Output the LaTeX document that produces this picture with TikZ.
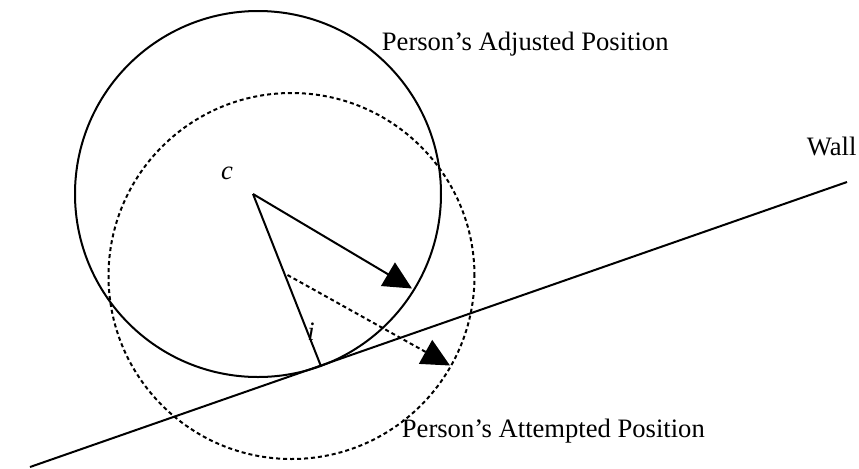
\documentclass[tikz,border=0pt]{standalone}
\usepackage{fontspec}
\setmainfont{Liberation Serif}
\usetikzlibrary{arrows.meta}
\tikzstyle{solidline}=[line width=1pt]
\tikzstyle{dotline}=[line width=1pt, dash pattern=on 2pt off 1.5pt]
\tikzstyle{bigarrow}=[-{Triangle[length=14pt,width=13.5pt]}]
\tikzstyle{labelsty}=[inner sep=0pt, anchor=base west, font=\fontsize{13.3}{16}\selectfont]
\begin{document}
\begin{tikzpicture}[x=0.5pt,y=-0.5pt]
			\useasboundingbox (0,0) rectangle (859,468);
			\coordinate (adj) at (258,194);
			\coordinate (att) at (291.5,276);
			\coordinate (c) at (253,194);
			\coordinate (touch) at (320.5,365);
			\coordinate (wallA) at (30,467);
			\coordinate (wallB) at (847,182);
			\coordinate (tipA) at (412,288.5);
			\coordinate (mid) at (287.5,275);
			\coordinate (tipB) at (450,365.5);
			
			\draw[solidline] (adj) circle[radius=91.5pt];
			\draw[dotline] (att) circle[radius=91.5pt];
			\draw[solidline] (wallA) -- (wallB);
			
			\draw[solidline] (c) -- (touch);
			\draw[solidline,bigarrow] (c) -- (tipA);
			\draw[dotline,bigarrow] (mid) -- (tipB);
			
			\node[labelsty,anchor=base] (clabel) at (227,179) {\textit{c}};
			\node[labelsty,anchor=base] (ilabel) at (311,340) {\textit{i}};
			\node[labelsty] (adjlabel) at (381.5,50) {Person's Adjusted Position};
			\node[labelsty] (attlabel) at (401.5,437) {Person's Attempted Position};
			\node[labelsty] (walllabel) at (806.5,155.5) {Wall};
		\end{tikzpicture}
\end{document}
